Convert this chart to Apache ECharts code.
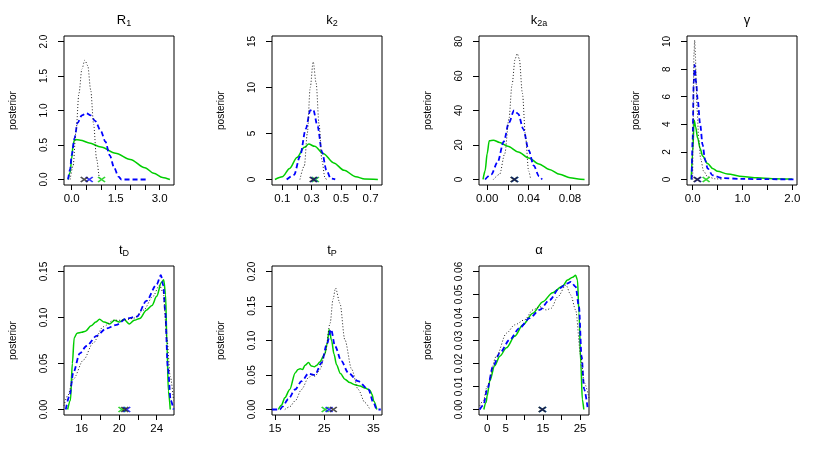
<!DOCTYPE html>
<html>
<head>
<meta charset="utf-8">
<script src="https://cdn.jsdelivr.net/npm/echarts@6/dist/echarts.min.js"></script>
<style>html,body{margin:0;padding:0;background:#fff}#c{width:830px;height:460px}</style>
</head>
<body>
<div id="c"></div>
<script>
// ---------- data (value, density) ----------
const R1_GREEN = [[-0.12,0],[-0.05,0.1],[0.0,0.3],[0.05,0.5],[0.1,0.58],[0.3,0.57],[0.6,0.53],[1.0,0.47],[1.5,0.38],[2.0,0.29],[2.5,0.17],[2.8,0.09],[3.1,0.03],[3.35,0.0]];
const R1_BLUE  = [[-0.12,0],[-0.05,0.15],[0,0.35],[0.1,0.6],[0.2,0.82],[0.35,0.93],[0.5,0.96],[0.65,0.93],[0.8,0.85],[1.0,0.7],[1.15,0.55],[1.3,0.35],[1.45,0.17],[1.6,0.04],[1.7,0],[2.6,0]];
const R1_BLACK = [[-0.05,0],[0.05,0.2],[0.15,0.7],[0.25,1.25],[0.35,1.6],[0.45,1.73],[0.55,1.65],[0.65,1.3],[0.75,0.8],[0.85,0.3],[0.95,0.03],[1.0,0]];
const R1_MARKS = [1.02, 0.60, 0.43]; // green, blue, black

const K2_GREEN = [[0.05,0],[0.1,0.3],[0.15,1.2],[0.2,2.4],[0.25,3.5],[0.28,3.85],[0.32,3.6],[0.38,2.8],[0.45,1.8],[0.52,1.0],[0.6,0.3],[0.66,0.05],[0.75,0]];
const K2_BLUE  = [[0.13,0],[0.18,0.5],[0.22,2.5],[0.26,5.5],[0.29,7.5],[0.31,7.6],[0.34,5.8],[0.37,3.0],[0.4,1.0],[0.43,0.1],[0.46,0]];
const K2_BLACK = [[0.22,0],[0.25,1.5],[0.27,5],[0.29,10],[0.31,12.8],[0.33,10.5],[0.35,6],[0.37,2],[0.39,0.2],[0.4,0]];
const K2_MARKS = [0.325, 0.315, 0.31];

const K2A_GREEN = [[-0.004,0],[-0.002,5],[0.0,15],[0.002,22.5],[0.006,22.8],[0.012,21.5],[0.02,19.3],[0.03,16],[0.04,12.5],[0.05,9],[0.06,5.8],[0.07,3],[0.08,1],[0.09,0.15],[0.094,0]];
const K2A_BLUE  = [[-0.002,0],[0.004,3],[0.01,10],[0.016,22],[0.021,33],[0.026,40],[0.03,38],[0.035,29],[0.04,17],[0.045,8],[0.05,2],[0.053,0]];
const K2A_BLACK = [[0.006,0],[0.012,3],[0.017,15],[0.021,35],[0.024,55],[0.027,70],[0.029,73],[0.031,70],[0.034,50],[0.037,25],[0.04,5],[0.042,0]];
const K2A_MARKS = [0.0265, 0.0265, 0.026];

const GAM_GREEN = [[-0.03,0],[0.0,2],[0.03,4.3],[0.06,3.8],[0.1,3.0],[0.15,2.25],[0.2,1.7],[0.3,1.15],[0.4,0.8],[0.5,0.6],[0.7,0.4],[1.0,0.22],[1.3,0.12],[1.6,0.06],[2.0,0.03]];
const GAM_BLUE  = [[-0.02,0],[0.0,3],[0.02,7],[0.04,8.3],[0.07,7],[0.1,5.8],[0.15,4.0],[0.2,2.5],[0.25,1.4],[0.3,0.8],[0.4,0.3],[0.6,0.1],[1.0,0.04],[1.5,0.02],[2.05,0.01]];
const GAM_BLACK = [[0.0,0],[0.01,4],[0.025,9],[0.04,10.1],[0.055,9],[0.07,7],[0.09,5],[0.12,3],[0.16,1.5],[0.22,0.6],[0.3,0.2],[0.45,0.05],[0.6,0.01]];
const GAM_MARKS = [0.27, 0.10, 0.09];

const TD_GREEN = [[14.5,0],[14.8,0.01],[15.0,0.05],[15.2,0.078],[15.5,0.083],[16.0,0.084],[16.4,0.085],[17.0,0.091],[17.5,0.095],[17.9,0.098],[18.4,0.095],[19.0,0.093],[19.5,0.097],[20.0,0.095],[20.5,0.098],[21.1,0.093],[21.6,0.097],[22.2,0.099],[22.9,0.108],[23.5,0.113],[24.0,0.123],[24.5,0.138],[24.75,0.141],[24.95,0.125],[25.1,0.07],[25.25,0.02],[25.45,0]];
const TD_BLUE  = [[14.3,0],[14.7,0.015],[15.1,0.04],[15.8,0.061],[16.5,0.069],[17.6,0.08],[18.6,0.088],[19.7,0.092],[20.8,0.099],[21.9,0.101],[22.9,0.118],[24.0,0.136],[24.45,0.146],[24.7,0.135],[24.9,0.108],[25.2,0.045],[25.5,0.01],[25.8,0]];
const TD_BLACK = [[14.1,0.004],[14.5,0.015],[15.1,0.033],[16.2,0.054],[17.2,0.072],[18.3,0.09],[19.4,0.097],[20.4,0.097],[21.5,0.099],[22.6,0.108],[23.6,0.123],[24.3,0.135],[24.7,0.127],[25.1,0.076],[25.45,0.036],[25.8,0.01]];
const TD_MARKS = [20.3, 20.8, 20.6];

const TP_GREEN = [[15.7,0],[16.3,0.006],[17.0,0.017],[18.0,0.029],[19.1,0.053],[19.7,0.058],[20.1,0.059],[20.6,0.058],[21.1,0.064],[21.8,0.068],[22.4,0.063],[23.0,0.062],[23.5,0.064],[24.1,0.069],[25.1,0.08],[25.6,0.095],[26.0,0.116],[26.5,0.1],[27.0,0.08],[27.5,0.065],[28.3,0.052],[29.2,0.044],[30.2,0.039],[31.2,0.036],[32.3,0.034],[33.3,0.031],[34.3,0.028],[34.7,0.022],[35.1,0.012],[35.7,0]];
const TP_BLUE  = [[14.4,0],[16.0,0.0],[16.5,0.004],[17.7,0.015],[19.1,0.029],[20.4,0.041],[21.8,0.052],[23.1,0.05],[24.5,0.068],[25.5,0.094],[26.4,0.116],[27.2,0.092],[28.5,0.07],[29.9,0.053],[31.9,0.041],[34.0,0.029],[35.0,0.01],[35.7,0],[36.5,0]];
const TP_BLACK = [[17.0,0],[18.0,0.004],[19.1,0.0125],[20.4,0.029],[21.8,0.046],[22.5,0.05],[23.1,0.048],[24.15,0.058],[25.2,0.082],[26.2,0.125],[26.8,0.16],[27.3,0.176],[28.2,0.154],[29.2,0.101],[30.6,0.058],[31.9,0.029],[33.3,0.01],[34.3,0]];
const TP_MARKS = [25.2, 26.0, 26.85];

const AL_GREEN = [[-0.9,0],[-0.3,0.003],[0.0,0.006],[0.7,0.0124],[2.0,0.019],[3.4,0.0232],[5.2,0.0268],[7.4,0.0318],[9.6,0.0368],[12.3,0.0419],[15.0,0.0469],[17.6,0.0508],[20.3,0.0537],[21.6,0.0563],[23.0,0.0575],[23.8,0.0584],[24.3,0.0563],[24.7,0.042],[25.2,0.02],[25.6,0.0045],[26.0,0]];
const AL_BLUE  = [[-2.0,0],[-1.0,0.002],[0.0,0.0088],[1.6,0.0189],[3.4,0.0246],[6.1,0.0304],[8.7,0.0354],[11.4,0.0397],[14.1,0.0433],[16.8,0.0476],[19.4,0.0527],[21.5,0.0548],[22.5,0.0555],[23.8,0.0534],[24.7,0.0447],[25.4,0.0232],[26.1,0.0088],[27.0,0.001]];
const AL_BLACK = [[-2.0,0.0016],[-1.0,0.004],[0.0,0.0102],[2.5,0.0232],[5.2,0.0332],[7.4,0.0368],[10.1,0.039],[12.3,0.0433],[14.1,0.0447],[15.9,0.0433],[17.2,0.044],[19.0,0.049],[21.2,0.0541],[22.5,0.0498],[23.8,0.0433],[25.2,0.0232],[26.1,0.0117],[27.4,0.005]];
const AL_MARKS = [14.9, 14.9, 14.8];

// tick values
const R1_XTICKS = [0,0.5,1,1.5,2,2.5,3], R1_XLABELS = [0,1.5,3], R1_YTICKS = [0,0.5,1,1.5,2];
const K2_XTICKS = [0.1,0.2,0.3,0.4,0.5,0.6,0.7], K2_XLABELS = [0.1,0.3,0.5,0.7], K2_YTICKS = [0,5,10,15];
const K2A_XTICKS = [0,0.02,0.04,0.06,0.08], K2A_XLABELS = [0,0.04,0.08], K2A_YTICKS = [0,20,40,60,80];
const GAM_XTICKS = [0,0.5,1,1.5,2], GAM_XLABELS = [0,1,2], GAM_YTICKS = [0,2,4,6,8,10];
const TD_XTICKS = [16,18,20,22,24], TD_XLABELS = [16,20,24], TD_YTICKS = [0,0.05,0.1,0.15];
const TP_XTICKS = [15,20,25,30,35], TP_XLABELS = [15,25,35], TP_YTICKS = [0,0.05,0.1,0.15,0.2];
const AL_XTICKS = [0,5,10,15,20,25], AL_XLABELS = [0,5,15,25], AL_YTICKS = [0,0.01,0.02,0.03,0.04,0.05,0.06];

const TITLES = ['{m|R}{s|1}','{m|k}{s|2}','{m|k}{s|2a}','{m|γ}','{m|t}{s|D}','{m|t}{s|P}','{m|α}'];

// ---------- layout ----------
const FONT = 'Liberation Sans, Arial, Helvetica, sans-serif';
const COL_LEFT = [64, 272, 479, 687];
const ROW_TOP = [36, 266];
const BOX_W = 110, BOX_H = 149;
const GREEN = '#00CD00', BLUE = '#0000FF', BLACK = '#222';

const panels = [
  {x:[-0.26,3.49], y:[-0.08,2.08], xt:R1_XTICKS, xl:R1_XLABELS, yt:R1_YTICKS, xd:1, yd:1, g:R1_GREEN, b:R1_BLUE, k:R1_BLACK, m:R1_MARKS},
  {x:[0.03,0.778], y:[-0.6,15.6], xt:K2_XTICKS, xl:K2_XLABELS, yt:K2_YTICKS, xd:1, yd:0, g:K2_GREEN, b:K2_BLUE, k:K2_BLACK, m:K2_MARKS},
  {x:[-0.0079,0.0983], y:[-3.2,83.2], xt:K2A_XTICKS, xl:K2A_XLABELS, yt:K2A_YTICKS, xd:2, yd:0, g:K2A_GREEN, b:K2A_BLUE, k:K2A_BLACK, m:K2A_MARKS},
  {x:[-0.114,2.094], y:[-0.4,10.4], xt:GAM_XTICKS, xl:GAM_XLABELS, yt:GAM_YTICKS, xd:1, yd:0, g:GAM_GREEN, b:GAM_BLUE, k:GAM_BLACK, m:GAM_MARKS},
  {x:[14.11,25.85], y:[-0.006,0.156], xt:TD_XTICKS, xl:TD_XLABELS, yt:TD_YTICKS, xd:0, yd:2, g:TD_GREEN, b:TD_BLUE, k:TD_BLACK, m:TD_MARKS},
  {x:[14.39,36.75], y:[-0.008,0.208], xt:TP_XTICKS, xl:TP_XLABELS, yt:TP_YTICKS, xd:0, yd:2, g:TP_GREEN, b:TP_BLUE, k:TP_BLACK, m:TP_MARKS},
  {x:[-2.2,27.4], y:[-0.0024,0.0624], xt:AL_XTICKS, xl:AL_XLABELS, yt:AL_YTICKS, xd:0, yd:2, g:AL_GREEN, b:AL_BLUE, k:AL_BLACK, m:AL_MARKS}
];

const XPATH = 'path://M0,0L10,10M0,10L10,0';
const grids=[], xAxes=[], yAxes=[], series=[], titles=[];
panels.forEach((p,i)=>{
  const col=i%4, row=Math.floor(i/4);
  const left=COL_LEFT[col], top=ROW_TOP[row];
  grids.push({left:left, top:top, width:BOX_W, height:BOX_H, show:true, borderColor:'#000', borderWidth:1, backgroundColor:'transparent'});
  titles.push({text:TITLES[i], left:left+BOX_W/2, top:top-27, textAlign:'center',
    textStyle:{fontFamily:FONT, fontWeight:'normal', color:'#000',
      rich:{m:{fontFamily:FONT, fontSize:13, color:'#000', verticalAlign:'top', lineHeight:14},
            s:{fontFamily:FONT, fontSize:9, color:'#000', verticalAlign:'bottom', lineHeight:10, padding:[6,0,0,0]}}}});
  xAxes.push({gridIndex:i, type:'value', min:p.x[0], max:p.x[1],
    axisLine:{show:false, onZero:false}, splitLine:{show:false},
    axisTick:{show:true, length:5, customValues:p.xt, lineStyle:{color:'#000'}},
    axisLabel:{customValues:p.xl, formatter:(v)=>Number(v).toFixed(p.xd), fontFamily:FONT, fontSize:11.5, color:'#000', margin:8}});
  yAxes.push({gridIndex:i, type:'value', min:p.y[0], max:p.y[1],
    axisLine:{show:false, onZero:false}, splitLine:{show:false},
    axisTick:{show:true, length:6, customValues:p.yt, lineStyle:{color:'#000'}},
    axisLabel:{customValues:p.yt, formatter:(v)=>Number(v).toFixed(p.yd), rotate:90, fontFamily:FONT, fontSize:10, color:'#000', margin:15},
    name:'posterior', nameLocation:'middle', nameRotate:90, nameGap:46,
    nameTextStyle:{fontFamily:FONT, fontSize:10, color:'#000'}});
  const common = {xAxisIndex:i, yAxisIndex:i, type:'line', showSymbol:false, symbol:'none', smooth:0.3, smoothMonotone:'x', silent:true, animation:false};
  series.push(Object.assign({}, common, {data:p.g, lineStyle:{color:GREEN, width:1.5, type:'solid'}, z:2}));
  series.push(Object.assign({}, common, {data:p.b, lineStyle:{color:BLUE, width:1.8, type:[5,3]}, z:3}));
  series.push(Object.assign({}, common, {data:p.k, lineStyle:{color:BLACK, width:1, type:[1,2]}, z:4}));
  const mcol = [GREEN, BLUE, BLACK];
  p.m.forEach((v,j)=>{
    series.push({xAxisIndex:i, yAxisIndex:i, type:'scatter', data:[[v,0]], symbol:XPATH, symbolSize:[7,5], silent:true, animation:false, z:5+j,
      itemStyle:{color:'rgba(0,0,0,0)', borderColor:mcol[j], borderWidth:1.5}});
  });
});

const chart = echarts.init(document.getElementById('c'), null, {renderer:'canvas'});
chart.setOption({animation:false, backgroundColor:'#fff', title:titles, grid:grids, xAxis:xAxes, yAxis:yAxes, series:series});
</script>
</body>
</html>
